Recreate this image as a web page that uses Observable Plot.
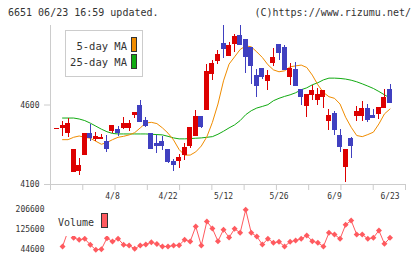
<!DOCTYPE html>
<html><head><meta charset="utf-8">
<script src="https://cdn.jsdelivr.net/npm/d3@7"></script>
<script src="https://cdn.jsdelivr.net/npm/@observablehq/plot@0.6"></script>
<style>
body{margin:0;background:#fff;}
#wrap{position:relative;width:420px;height:259px;overflow:hidden;font-family:"DejaVu Sans Mono",monospace;color:#333;background:#fff;}
.abs{position:absolute;white-space:nowrap;}
#wrap svg{position:absolute;left:0;}
</style></head><body><div id="wrap"></div>
<script>
// ---- data ----
const dates = ["3/25","3/26","3/27","3/30","3/31","4/1","4/2","4/3","4/6","4/7","4/8","4/9","4/10","4/13","4/14","4/15","4/16","4/17","4/20","4/21","4/22","4/23","4/24","4/27","4/28","4/30","5/1","5/7","5/8","5/11","5/12","5/13","5/14","5/15","5/18","5/19","5/20","5/21","5/22","5/25","5/26","5/27","5/28","5/29","6/1","6/2","6/3","6/4","6/5","6/8","6/9","6/10","6/11","6/12","6/15","6/16","6/17","6/18","6/19","6/22","6/23"];
const open  = [4448,4453,4422,4177,4188,4288,4420,4389,4385,4370,4439,4445,4458,4453,4534,4596,4501,4419,4356,4370,4320,4240,4246,4288,4339,4408,4527,4570,4798,4878,4984,4909,4984,5034,5009,4959,4784,4826,4753,4865,4978,4959,4773,4819,4696,4596,4661,4631,4648,4497,4543,4407,4209,4387,4533,4533,4575,4533,4543,4582,4696];
const high  = [4452,4495,4516,4320,4263,4421,4476,4428,4414,4407,4471,4464,4520,4504,4552,4627,4520,4420,4410,4401,4321,4255,4288,4355,4459,4564,4528,4857,4878,4940,5097,4990,5045,5097,5010,4960,4826,4827,4815,4958,4982,4972,4861,4867,4697,4666,4723,4703,4687,4570,4558,4445,4321,4393,4590,4621,4602,4571,4583,4696,4727];
const low   = [4448,4403,4397,4176,4157,4287,4370,4368,4380,4303,4420,4401,4449,4432,4512,4490,4460,4320,4297,4313,4230,4184,4199,4251,4324,4407,4455,4566,4752,4857,4892,4905,4930,4975,4797,4727,4648,4763,4690,4840,4878,4818,4721,4720,4596,4523,4631,4596,4581,4439,4407,4303,4115,4261,4496,4497,4491,4516,4508,4581,4614];
const close = [4452,4470,4483,4319,4219,4420,4391,4401,4395,4326,4470,4426,4483,4479,4551,4491,4471,4325,4345,4345,4240,4224,4268,4328,4458,4527,4460,4805,4861,4915,4953,4972,5028,4978,4903,4847,4721,4777,4784,4896,4928,4819,4826,4721,4648,4665,4686,4661,4686,4533,4445,4338,4320,4345,4558,4577,4507,4517,4582,4647,4615];
const ma5   = [null,4382,4382,4397,4405,4397,4391,4372,4353,4364,4382,4397,4403,4412,4426,4456,4487,4491,4483,4456,4423,4380,4320,4285,4285,4305,4342,4400,4491,4606,4752,4857,4903,4949,4972,4966,4934,4899,4853,4821,4809,4815,4840,4846,4851,4836,4788,4727,4679,4652,4642,4606,4523,4460,4408,4401,4414,4429,4481,4544,4575];
const ma25  = [null,4518,4518,4518,4512,4502,4486,4467,4448,4432,4421,4418,4418,4418,4418,4418,4418,4416,4414,4412,4403,4393,4387,4387,4389,4391,4393,4397,4401,4416,4435,4456,4475,4502,4539,4564,4581,4591,4602,4627,4642,4654,4664,4677,4696,4708,4727,4740,4758,4769,4769,4767,4763,4756,4746,4733,4719,4704,4685,4664,4644];
const volume = [null,56750,120000,92000,83900,87900,63600,43400,45800,90400,77000,88500,63600,60800,47400,60800,64900,74200,67300,56750,56750,60800,62000,83900,77000,137700,60800,158000,129600,78200,125000,93000,128400,112200,205400,112200,97250,64850,87900,71700,75800,56750,75800,81050,87900,101300,78200,71700,56750,112200,105350,87900,144600,162000,105350,105350,87900,92000,121500,67700,92000];
const labelIdx = [10,20,30,40,50,60];
const priceTicks = [4100,4600];
const volTicks = [44600,125600,206600];
const titleText = "6651 06/23 16:59 updated.";
const creditText = "(C)https://www.rizumu.net/";

// ---- styling ----
const RED = "#dd0000", BLUE = "#4040c0", ORANGE = "#f08c00", GREEN = "#11aa11", VOL = "#ff5a5f", AXIS = "#cccccc", TXT = "#333";
const xDomain = [-1.17, 62.79];
const gridTicks = d3.range(12).map(k => xDomain[0] + k * (xDomain[1] - xDomain[0]) / 11);
const rows = dates.map((d, i) => ({i, d, o: open[i], h: high[i], l: low[i], c: close[i], m5: ma5[i], m25: ma25[i], v: volume[i]}));
const col = d => d.c >= d.o ? RED : BLUE;
const plain = d => String(d);
const wrap = document.getElementById("wrap");

const main = Plot.plot({
  width: 420, height: 205,
  marginLeft: 50, marginRight: 15, marginTop: 25, marginBottom: 21,
  x: {type: "linear", domain: xDomain, label: null},
  y: {domain: [4100, 5100], label: null},
  style: {background: "transparent", fontFamily: "DejaVu Sans Mono", fontSize: "8px", color: TXT, overflow: "visible"},
  marks: [
    Plot.ruleY([4100], {stroke: AXIS}),
    Plot.ruleX([xDomain[0]], {stroke: AXIS}),
    Plot.axisX(gridTicks, {tickSize: 6, stroke: AXIS, tickFormat: () => "", label: null}),
    Plot.axisX(labelIdx, {tickSize: 0, tickPadding: 9, tickFormat: i => dates[i], fill: TXT, fontSize: 8, label: null}),
    Plot.axisY(priceTicks, {tickSize: 6, tickPadding: 5, stroke: AXIS, fill: TXT, fontSize: 8, tickFormat: plain, label: null}),
    Plot.line(rows, {x: "i", y: "m25", stroke: GREEN, strokeWidth: 1}),
    Plot.line(rows, {x: "i", y: "m5", stroke: ORANGE, strokeWidth: 1}),
    Plot.ruleX(rows, {x: "i", y1: "l", y2: "h", stroke: col, strokeWidth: 1, shapeRendering: "crispEdges"}),
    Plot.rect(rows, {x1: d => d.i - 0.45, x2: d => d.i + 0.45, y1: "o", y2: "c", fill: col, insetTop: -0.5, insetBottom: -0.5, shapeRendering: "crispEdges"})
  ]
});
main.style.top = "0px";
wrap.appendChild(main);

const vol = Plot.plot({
  width: 420, height: 59,
  marginLeft: 50, marginRight: 15, marginTop: 9, marginBottom: 10,
  x: {type: "linear", domain: xDomain, axis: null, label: null},
  y: {domain: [44600, 206600], label: null},
  style: {background: "transparent", fontFamily: "DejaVu Sans Mono", fontSize: "8px", color: TXT, overflow: "visible"},
  marks: [
    Plot.axisY(volTicks, {tickSize: 0, tickPadding: 6, fill: TXT, fontSize: 8, tickFormat: plain, label: null}),
    Plot.line(rows, {x: "i", y: "v", stroke: VOL, strokeWidth: 1}),
    Plot.dot(rows, {x: "i", y: "v", symbol: "diamond2", r: 2.7, fill: VOL})
  ]
});
vol.style.top = "200px";
wrap.appendChild(vol);

function div(html, css) {
  const e = document.createElement("div");
  e.className = "abs";
  e.innerHTML = html;
  Object.assign(e.style, css);
  wrap.appendChild(e);
  return e;
}
div(titleText, {left: "8px", top: "7px", fontSize: "10px"});
div(creditText, {right: "9px", top: "7px", fontSize: "10px"});

// MA legend
div("", {left: "65px", top: "30px", width: "76px", height: "45px", border: "1px solid #cccccc", background: "#fff"});
div("5-day MA", {right: (420 - 127) + "px", top: "40px", fontSize: "10.5px", lineHeight: "13px"});
div("", {left: "131px", top: "37px", width: "4px", height: "13px", border: "1px solid #333", background: ORANGE});
div("25-day MA", {right: (420 - 127) + "px", top: "56px", fontSize: "10.5px", lineHeight: "13px"});
div("", {left: "131px", top: "54px", width: "4px", height: "13px", border: "1px solid #333", background: GREEN});

// Volume legend
div("", {left: "54px", top: "206px", width: "58px", height: "30px", background: "#fff"});
div("Volume", {left: "58px", top: "216px", fontSize: "10px", lineHeight: "13px"});
div("", {left: "101px", top: "213px", width: "5px", height: "13px", border: "1px solid #333", background: VOL});
</script></body></html>
